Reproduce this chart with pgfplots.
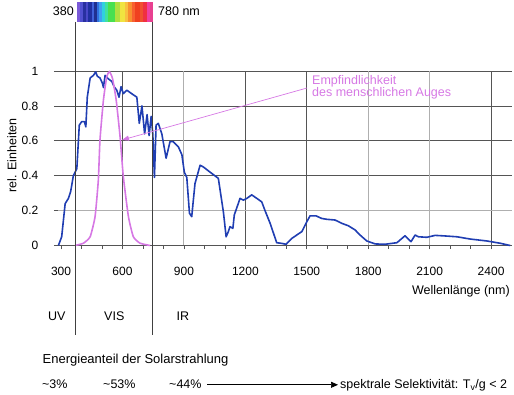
\documentclass[border=0pt]{standalone}
\usepackage{pgfplots}
\pgfplotsset{compat=1.18}
\usepackage{fontspec}
\setmainfont{Liberation Sans}
\usetikzlibrary{arrows.meta}
\definecolor{sunblue}{RGB}{32,62,178}
\definecolor{eyeviolet}{RGB}{214,120,228}
\definecolor{gridd}{RGB}{85,85,85}
\definecolor{gridl}{RGB}{175,175,175}
\newcommand{\tf}{\fontsize{12.5}{14}\selectfont}
\begin{document}
\begin{tikzpicture}
\useasboundingbox (-58pt,-149.5pt) rectangle (456pt,245.5pt);
\begin{axis}[
  at={(0pt,0pt)}, anchor=south west,
  x=0.20477pt, y=174.5pt,
  xmin=285, xmax=2500, ymin=0, ymax=1,
  axis x line*=bottom, axis y line*=left,
  x axis line style={-, draw=gridd, line width=0.8pt},
  y axis line style={draw=none},
  xtick={300,600,900,1200,1500,1800,2100,2400},
  minor x tick num=2,
  ytick={0,0.2,0.4,0.6,0.8,1},
  tick align=outside,
  major tick length=4pt, minor tick length=3.5pt,
  tick style={gridd, line width=0.6pt},
  ymajorgrids,
  grid style={gridd, line width=0.7pt},
  /pgf/number format/assume math mode=true,
  /pgf/number format/1000 sep={},
  tick label style={font=\fontsize{12}{14}\selectfont},
  xticklabel style={anchor=base, inner sep=0pt, yshift=-26.5pt},
  yticklabel style={anchor=east, inner sep=0pt, xshift=-15.5pt},
  clip=false,
]
\foreach \g in {600,1200,1500,2400}{
  \edef\tmp{\noexpand\draw[gridd, line width=0.7pt] (axis cs:\g,0) -- (axis cs:\g,1);}\tmp
}
\foreach \g in {900,1800,2100}{
  \edef\tmp{\noexpand\draw[gridl, line width=1.1pt] (axis cs:\g,0) -- (axis cs:\g,1);}\tmp
}
\draw[gridl, line width=1.1pt] (axis cs:285,0.2) -- (axis cs:2500,0.2);
% solar spectrum
\addplot[sunblue, line width=1.6pt, line join=round] coordinates {
(287,0.00) (303,0.05) (320,0.24) (336,0.27) (347,0.31) (360,0.40) (377,0.44)
(389,0.69) (401,0.71) (414,0.71) (421,0.68) (428,0.85) (442,0.96) (458,0.975)
(469,0.995) (477,0.97) (490,0.96) (502,0.93) (507,0.905) (515,0.975) (531,0.955)
(548,0.94) (559,0.91) (572,0.89) (583,0.85) (593,0.91) (604,0.87) (621,0.89)
(645,0.87) (670,0.85) (682,0.70) (695,0.80) (708,0.64) (720,0.75) (730,0.63)
(740,0.74) (748,0.64) (756,0.39) (764,0.69) (775,0.70) (792,0.64) (813,0.50)
(832,0.595) (848,0.595) (873,0.565) (890,0.52) (902,0.42) (914,0.39) (927,0.185)
(938,0.165) (954,0.355) (979,0.46) (995,0.45) (1028,0.42) (1068,0.385) (1093,0.19)
(1106,0.05) (1117,0.08) (1125,0.108) (1139,0.098) (1146,0.175) (1174,0.27)
(1190,0.26) (1207,0.27) (1231,0.29) (1256,0.27) (1280,0.25) (1296,0.20)
(1321,0.127) (1353,0.016) (1378,0.012) (1399,0.007) (1427,0.041) (1451,0.06)
(1476,0.08) (1500,0.136) (1516,0.17) (1545,0.17) (1573,0.155) (1598,0.15)
(1638,0.146) (1671,0.127) (1703,0.113) (1736,0.089) (1760,0.06) (1793,0.026)
(1834,0.009) (1882,0.007) (1940,0.016) (1980,0.056) (2009,0.022) (2029,0.06)
(2045,0.05) (2086,0.047) (2127,0.058) (2184,0.054) (2233,0.05) (2298,0.037)
(2379,0.026) (2444,0.013) (2493,0.0)
};
% eye sensitivity
\addplot[eyeviolet, line width=1.6pt, smooth, tension=0.3] coordinates {
(368,0) (409,0.013) (442,0.05) (466,0.165) (482,0.375) (490,0.605) (507,0.835)
(523,0.967) (536,0.996) (551,0.958) (569,0.835) (588,0.625) (604,0.395)
(629,0.165) (653,0.05) (686,0.013) (735,0)
};
\end{axis}
\begin{scope}[x=1pt,y=1pt]
% spectrum bar
\foreach \a/\b/\c in {
 230/240/{122,90,216}, 240/250/{80,80,208}, 250/258/{40,48,160}, 258/265/{72,72,200},
 265/275/{32,48,160}, 275/283/{64,96,216}, 283/290/{32,48,144}, 290/298/{48,112,224},
 298/305/{64,160,240}, 305/315/{48,208,224}, 315/325/{64,224,160}, 325/345/{72,224,80},
 345/360/{176,224,64}, 360/375/{240,228,64}, 375/385/{248,192,64}, 385/395/{248,144,48},
 395/405/{248,96,48}, 405/420/{240,64,32}, 420/430/{240,80,48}, 430/440/{240,48,64},
 440/450/{240,64,160}, 450/458.5/{232,64,144}}{
  \definecolor{tmpc}{RGB}{\c}
  \fill[tmpc] ({\a/3-58},223.5) rectangle ({\b/3-58},243.5);
}
\draw[black!75, line width=0.8pt] (17.8,223.5) -- (17.8,-89.5);
\draw[black!75, line width=0.8pt] (94.7,223.5) -- (94.7,-89.5);
\node[anchor=east, inner sep=0pt, font=\tf] at (16,234) {380};
\node[anchor=west, inner sep=0pt, font=\tf] at (100,234) {780 nm};
% y label
\node[rotate=90, inner sep=0pt, font=\tf] at (-46,90) {rel. Einheiten};
% annotation
\node[anchor=base west, inner sep=0pt, font=\tf, text=eyeviolet] at (254,160.5) {Empfindlichkeit};
\node[anchor=base west, inner sep=0pt, font=\tf, text=eyeviolet] at (254,148.5) {des menschlichen Auges};
\draw[eyeviolet, line width=0.7pt, -{Triangle[length=7pt,width=5pt]}] (249,157.5) -- (64,105.5);
% bottom texts
\node[anchor=base east, inner sep=0pt, font=\tf] at (452,-49.5) {Wellenlänge (nm)};
\node[anchor=base west, inner sep=0pt, font=\tf] at (-10,-75.5) {UV};
\node[anchor=base west, inner sep=0pt, font=\tf] at (46,-75.5) {VIS};
\node[anchor=base west, inner sep=0pt, font=\tf] at (118.5,-75.5) {IR};
\node[anchor=base west, inner sep=0pt, font=\fontsize{13}{15}\selectfont] at (-15.5,-118.5) {Energieanteil der Solarstrahlung};
\node[anchor=base west, inner sep=0pt, font=\tf] at (-16,-143.5) {\textasciitilde3\%};
\node[anchor=base west, inner sep=0pt, font=\tf] at (45,-143.5) {\textasciitilde53\%};
\node[anchor=base west, inner sep=0pt, font=\tf] at (111,-143.5) {\textasciitilde44\%};
\draw[black, line width=0.7pt, -{Triangle[length=7pt,width=6pt]}] (149,-139.3) -- (280,-139.3);
\node[anchor=base west, inner sep=0pt, font=\tf] at (282,-143.5) {spektrale Selektivität: T\textsubscript{v}/g < 2};
\end{scope}
\end{tikzpicture}
\end{document}
